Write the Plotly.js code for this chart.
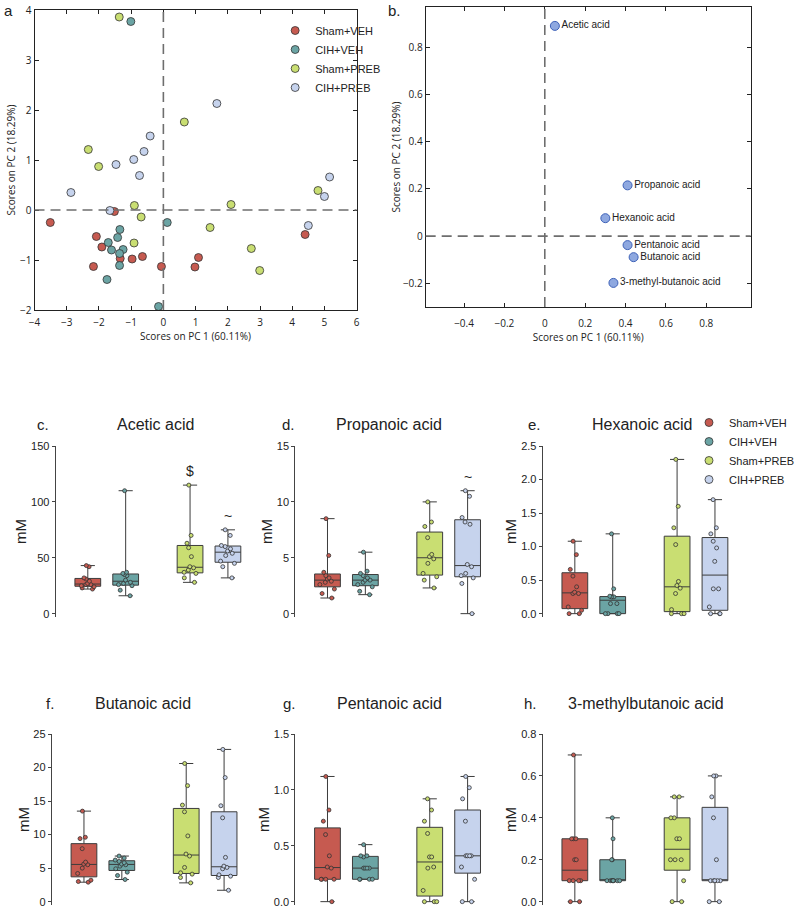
<!DOCTYPE html>
<html>
<head>
<meta charset="utf-8">
<script src="https://cdn.plot.ly/plotly-3.0.1.min.js"></script>
<style>
  html, body { margin: 0; padding: 0; background: #fff; }
  #chart { width: 800px; height: 911px; }
</style>
</head>
<body>
<div id="chart"></div>
<script>
const W = 800;
const H = 911;

const groups = ["Sham+VEH", "CIH+VEH", "Sham+PREB", "CIH+PREB"];
const colors = ["#c65a50", "#6ba4a4", "#c9de72", "#c6d3ed"];

// panel a: PCA scores
const pc1ShamVeh = [-1.52, -3.51, -2.08, -1.91, -1.34, -0.97, -0.65, -2.17, -0.06, 4.4, 1.09, 0.98];
const pc2ShamVeh = [-0.03, -0.25, -0.53, -0.74, -0.97, -0.98, -0.93, -1.13, -1.13, -0.49, -0.95, -1.14];
const pc1CihVeh = [-1.01, 0.12, -1.35, -1.42, -1.71, -1.61, -1.25, -1.36, -1.36, -1.75, -0.15];
const pc2CihVeh = [3.77, -0.25, -0.39, -0.55, -0.65, -0.8, -0.79, -0.87, -1.11, -1.39, -1.93];
const pc1ShamPreb = [-1.37, 0.65, -2.33, -2.01, -0.9, -0.69, -0.91, 4.8, 2.1, 1.45, 2.73, 2.99];
const pc2ShamPreb = [3.86, 1.76, 1.21, 0.87, 0.09, -0.14, -0.66, 0.39, 0.11, -0.35, -0.77, -1.21];
const pc1CihPreb = [-0.41, -0.6, -0.92, -1.47, 1.66, -0.74, -2.87, -1.66, 5.16, 5.0, 4.5];
const pc2CihPreb = [1.48, 1.17, 1.01, 0.91, 2.13, 0.69, 0.35, -0.01, 0.66, 0.27, -0.31];

// panel b: loadings
const acids = ["Acetic acid", "Propanoic acid", "Hexanoic acid", "Pentanoic acid", "Butanoic acid", "3-methyl-butanoic acid"];
const loadPC1 = [0.05, 0.41, 0.3, 0.41, 0.44, 0.34];
const loadPC2 = [0.89, 0.215, 0.076, -0.038, -0.089, -0.198];

// panels c-h: concentrations (mM), one array per group in the order of `groups`
const acetic = [
  [22, 23, 24, 25, 26, 26, 27, 29, 31, 32, 42, 43],
  [16, 21, 25, 26, 27, 28, 30, 34, 35, 36, 37, 110],
  [28, 32, 36, 37, 39, 41, 42, 51, 59, 63, 70, 115],
  [32, 42, 45, 47, 52, 54, 56, 58, 60, 61, 70, 75]
];
const propanoic = [
  [1.4, 1.8, 2.2, 2.6, 2.8, 2.9, 3.1, 3.2, 3.4, 3.7, 5.2, 8.5],
  [1.7, 2.0, 2.4, 2.6, 2.8, 3.0, 3.0, 3.2, 3.4, 3.6, 3.8, 5.5],
  [2.3, 3.0, 3.3, 3.6, 4.5, 4.9, 5.1, 5.3, 6.8, 7.8, 8.2, 10],
  [0, 2.7, 3.2, 3.4, 3.6, 4.2, 4.4, 8.0, 8.2, 8.6, 10.5, 11]
];
const hexanoic = [
  [0, 0, 0.05, 0.1, 0.3, 0.3, 0.32, 0.4, 0.56, 0.66, 0.88, 1.08],
  [0, 0, 0, 0, 0.15, 0.15, 0.25, 0.25, 0.25, 0.26, 0.37, 1.19],
  [0, 0, 0, 0.06, 0.3, 0.38, 0.42, 0.48, 1.03, 1.28, 1.6, 2.3],
  [0, 0, 0, 0.1, 0.37, 0.37, 0.78, 0.98, 1.08, 1.19, 1.28, 1.7]
];
const butanoic = [
  [2.9, 3.0, 3.2, 4.2, 5.0, 5.5, 5.6, 5.9, 7.9, 9.4, 9.6, 13.5],
  [3.3, 3.9, 4.4, 4.9, 5.3, 5.5, 5.6, 5.8, 6.0, 6.2, 6.5, 6.8],
  [2.8, 3.6, 4.1, 4.3, 5.1, 6.8, 7.1, 9.8, 13.4, 14.4, 17.3, 20.6],
  [1.7, 3.6, 3.8, 4.0, 4.9, 5.1, 5.3, 6.6, 12.5, 14.3, 18.5, 22.7]
];
const pentanoic = [
  [0, 0.2, 0.2, 0.2, 0.2, 0.3, 0.31, 0.41, 0.6, 0.72, 0.82, 1.12],
  [0.2, 0.2, 0.2, 0.2, 0.3, 0.3, 0.3, 0.3, 0.4, 0.41, 0.41, 0.51],
  [0, 0, 0, 0.1, 0.3, 0.31, 0.4, 0.4, 0.61, 0.72, 0.82, 0.92],
  [0, 0, 0.2, 0.31, 0.41, 0.41, 0.41, 0.41, 0.72, 0.92, 1.02, 1.12]
];
const methylbutanoic = [
  [0, 0, 0.1, 0.1, 0.1, 0.1, 0.2, 0.2, 0.3, 0.3, 0.3, 0.7],
  [0.1, 0.1, 0.1, 0.1, 0.1, 0.1, 0.1, 0.1, 0.2, 0.2, 0.3, 0.4],
  [0, 0, 0.1, 0.2, 0.2, 0.2, 0.3, 0.3, 0.4, 0.4, 0.5, 0.5],
  [0, 0, 0.1, 0.1, 0.1, 0.1, 0.1, 0.2, 0.4, 0.5, 0.6, 0.6]
];
const aceticMarks = ["", "", "$", "~"];
const propanoicMarks = ["", "", "", "~"];

// layout helpers (pixel -> paper fraction)
const fx = (p) => p / W;
const fy = (p) => 1 - p / H;
const boxSlots = [1, 2, 3.7, 4.7];
const SLOT_PX = 39.5;
const X0 = 0.15;
const X1 = 5.3;

const pcaFont = { family: "Open Sans", size: 10, color: "#222" };
const arial = "Liberation Sans";

const pcaAxis = {
  showline: true,
  linecolor: "#222",
  linewidth: 1,
  mirror: "ticks",
  ticks: "inside",
  ticklen: 4,
  tickcolor: "#222",
  showgrid: false,
  zeroline: false,
  tickfont: pcaFont
};

const panels = [
  { id: 3, data: acetic, title: "Acetic acid", letter: "c.", left: 58, titleX: 162, letterX: 45, row: 0, max: 150, dtick: 50, fmt: "", marks: aceticMarks },
  { id: 4, data: propanoic, title: "Propanoic acid", letter: "d.", left: 308, titleX: 406, letterX: 301, row: 0, max: 15, dtick: 5, fmt: "", marks: propanoicMarks },
  { id: 5, data: hexanoic, title: "Hexanoic acid", letter: "e.", left: 566, titleX: 670, letterX: 558, row: 0, max: 2.5, dtick: 0.5, fmt: ".1f", marks: null },
  { id: 6, data: butanoic, title: "Butanoic acid", letter: "f.", left: 54, titleX: 149, letterX: 52, row: 1, max: 25, dtick: 5, fmt: "", marks: null },
  { id: 7, data: pentanoic, title: "Pentanoic acid", letter: "g.", left: 308, titleX: 406, letterX: 302, row: 1, max: 1.5, dtick: 0.5, fmt: ".1f", marks: null },
  { id: 8, data: methylbutanoic, title: "3-methylbutanoic acid", letter: "h.", left: 566, titleX: 674, letterX: 553, row: 1, max: 0.8, dtick: 0.2, fmt: ".1f", marks: null }
];
const rows = [
  { top: 446, bottom: 617, titleY: 424 },
  { top: 734, bottom: 905, titleY: 703 }
];

function initChart() {
  const data = [];
  const pcaX = [pc1ShamVeh, pc1CihVeh, pc1ShamPreb, pc1CihPreb];
  const pcaY = [pc2ShamVeh, pc2CihVeh, pc2ShamPreb, pc2CihPreb];

  groups.forEach((g, i) => {
    data.push({
      type: "scatter",
      mode: "markers",
      x: pcaX[i],
      y: pcaY[i],
      xaxis: "x",
      yaxis: "y",
      name: g,
      legend: "legend",
      cliponaxis: false,
      marker: { color: colors[i], size: 8, line: { color: "#333", width: 0.8 } }
    });
  });

  data.push({
    type: "scatter",
    mode: "markers+text",
    x: loadPC1,
    y: loadPC2,
    text: acids,
    textposition: "middle right",
    textfont: { family: arial, size: 10, color: "#222" },
    xaxis: "x2",
    yaxis: "y2",
    showlegend: false,
    cliponaxis: false,
    marker: { color: "#8ea8e0", size: 9, line: { color: "#3d61b8", width: 1 } }
  });

  const legendStyle = {
    xanchor: "left", yanchor: "top",
    font: { family: arial, size: 11, color: "#222" },
    bgcolor: "rgba(0,0,0,0)", itemwidth: 30, tracegroupgap: 0
  };

  const layout = {
    width: W,
    height: H,
    margin: { l: 0, r: 0, t: 0, b: 0 },
    paper_bgcolor: "#fff",
    plot_bgcolor: "rgba(0,0,0,0)",
    boxmode: "overlay",
    showlegend: true,
    font: { family: arial, color: "#222" },
    legend: { ...legendStyle, x: fx(287), y: fy(16) },
    legend2: { ...legendStyle, x: fx(719), y: fy(408) },
    xaxis: {
      ...pcaAxis, domain: [fx(36), fx(372)], range: [-4, 6], dtick: 1, anchor: "y",
      ticklabelstandoff: 3,
      title: { text: "Scores on PC 1 (60.11%)", font: pcaFont, standoff: 2 }
    },
    yaxis: {
      ...pcaAxis, domain: [fy(310), fy(10)], range: [-2, 4], dtick: 1, anchor: "x",
      title: { text: "Scores on PC 2 (18.29%)", font: pcaFont, standoff: 2 }
    },
    xaxis2: {
      ...pcaAxis, domain: [fx(444), fx(783)], range: [-0.59, 1.02],
      tickvals: [-0.4, -0.2, 0, 0.2, 0.4, 0.6, 0.8], anchor: "y2",
      ticklabelstandoff: 7,
      title: { text: "Scores on PC 1 (60.11%)", font: pcaFont, standoff: 2 }
    },
    yaxis2: {
      ...pcaAxis, domain: [fy(307), fy(7)], range: [-0.3, 0.97],
      tickvals: [-0.2, 0, 0.2, 0.4, 0.6, 0.8], anchor: "x2",
      title: { text: "Scores on PC 2 (18.29%)", font: pcaFont, standoff: 0 }
    },
    shapes: [],
    annotations: [
      { text: "a", x: fx(2), y: fy(10), xref: "paper", yref: "paper", xanchor: "left", yanchor: "middle", showarrow: false, font: { family: arial, size: 15 } },
      { text: "b.", x: fx(403), y: fy(10), xref: "paper", yref: "paper", xanchor: "left", yanchor: "middle", showarrow: false, font: { family: arial, size: 15 } }
    ]
  };

  // dashed zero lines in the PCA panels
  [["x", "y"], ["x2", "y2"]].forEach(([xa, ya]) => {
    const dash = { color: "#6e6e6e", width: 1.6, dash: "10px,6px" };
    layout.shapes.push({ type: "line", xref: xa, yref: ya + " domain", x0: 0, x1: 0, y0: 0, y1: 1, line: dash });
    layout.shapes.push({ type: "line", xref: xa + " domain", yref: ya, x0: 0, x1: 1, y0: 0, y1: 0, line: dash });
  });

  panels.forEach((p) => {
    const xa = "x" + p.id;
    const ya = "y" + p.id;
    const row = rows[p.row];

    p.data.forEach((vals, i) => {
      data.push({
        type: "box",
        y: vals,
        x0: boxSlots[i],
        width: 0.68,
        xaxis: xa,
        yaxis: ya,
        name: groups[i],
        showlegend: false,
        boxpoints: false,
        whiskerwidth: 0.55,
        fillcolor: colors[i],
        line: { color: "#3c3c3c", width: 1 }
      });
      data.push({
        type: "box",
        y: vals,
        x0: boxSlots[i],
        width: 0.68,
        xaxis: xa,
        yaxis: ya,
        name: groups[i],
        showlegend: false,
        boxpoints: "all",
        jitter: 0.7,
        pointpos: 0,
        fillcolor: "rgba(0,0,0,0)",
        line: { color: "rgba(0,0,0,0)", width: 0 },
        marker: { color: colors[i], size: 4, line: { color: "#333", width: 0.8 } }
      });
      if (p.marks && p.marks[i]) {
        layout.annotations.push({
          text: p.marks[i], x: boxSlots[i], y: Math.max(...vals), xref: xa, yref: ya,
          yshift: 14, showarrow: false, font: { family: arial, size: 14, color: "#222" }
        });
      }
    });

    const right = p.left + (X1 - X0) * SLOT_PX;
    layout["xaxis" + p.id] = {
      domain: [fx(p.left), fx(right)], range: [X0, X1], visible: false, anchor: ya
    };
    layout["yaxis" + p.id] = {
      domain: [fy(row.bottom), fy(row.top)],
      range: [-0.02 * p.max, p.max],
      dtick: p.dtick,
      tick0: 0,
      tickformat: p.fmt,
      anchor: xa,
      showline: true,
      linecolor: "#444",
      linewidth: 1,
      ticks: "outside",
      ticklen: 3,
      tickcolor: "#444",
      showgrid: false,
      zeroline: false,
      tickfont: { family: arial, size: 11, color: "#222" },
      title: { text: "mM", font: { family: arial, size: 15, color: "#222" }, standoff: 0 }
    };

    layout.annotations.push({
      text: p.title, x: fx(p.titleX), y: fy(row.titleY), xref: "paper", yref: "paper",
      xanchor: "center", yanchor: "middle", showarrow: false, font: { family: arial, size: 16, color: "#222" }
    });
    layout.annotations.push({
      text: p.letter, x: fx(p.letterX), y: fy(row.titleY), xref: "paper", yref: "paper",
      xanchor: "center", yanchor: "middle", showarrow: false, font: { family: arial, size: 15, color: "#222" }
    });
  });

  // legend next to panel e
  groups.forEach((g, i) => {
    data.push({
      type: "scatter",
      mode: "markers",
      x: [null],
      y: [null],
      xaxis: "x5",
      yaxis: "y5",
      name: g,
      legend: "legend2",
      marker: { color: colors[i], size: 8, line: { color: "#333", width: 0.8 } }
    });
  });

  Plotly.newPlot("chart", data, layout, { displayModeBar: false, staticPlot: true });
}

window.addEventListener("load", initChart);
</script>
</body>
</html>
